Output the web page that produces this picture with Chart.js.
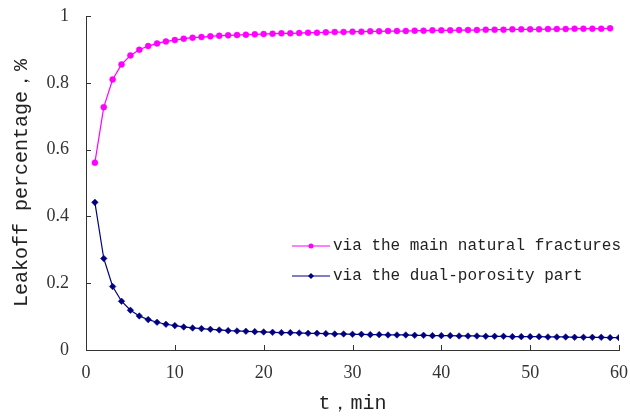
<!DOCTYPE html>
<html>
<head>
<meta charset="utf-8">
<script src="https://cdn.jsdelivr.net/npm/chart.js@4/dist/chart.umd.min.js"></script>
<style>
html,body{margin:0;padding:0;background:#fff;}
#wrap{width:630px;height:417px;}
</style>
</head>
<body>
<div id="wrap"><canvas id="c" width="630" height="417"></canvas></div>
<script>
const seriesNames = ["via the main natural fractures", "via the dual-porosity part"];
const timeMain = [1,2,3,4,5,6,7,8,9,10,11,12,13,14,15,16,17,18,19,20,21,22,23,24,25,26,27,28,29,30,31,32,33,34,35,36,37,38,39,40,41,42,43,44,45,46,47,48,49,50,51,52,53,54,55,56,57,58,59];
const mainFractures = [0.561,0.727,0.810,0.855,0.882,0.899,0.910,0.918,0.924,0.928,0.932,0.935,0.937,0.939,0.941,0.942,0.943,0.944,0.945,0.946,0.947,0.948,0.948,0.949,0.950,0.950,0.951,0.952,0.952,0.953,0.953,0.954,0.954,0.955,0.955,0.955,0.956,0.956,0.957,0.957,0.957,0.958,0.958,0.958,0.959,0.959,0.959,0.960,0.960,0.960,0.960,0.961,0.961,0.961,0.962,0.962,0.962,0.962,0.963];
const timeDual = [1,2,3,4,5,6,7,8,9,10,11,12,13,14,15,16,17,18,19,20,21,22,23,24,25,26,27,28,29,30,31,32,33,34,35,36,37,38,39,40,41,42,43,44,45,46,47,48,49,50,51,52,53,54,55,56,57,58,59,60];
const dualPorosity = [0.442,0.274,0.190,0.146,0.119,0.102,0.091,0.083,0.077,0.073,0.069,0.066,0.064,0.062,0.060,0.058,0.057,0.056,0.055,0.054,0.053,0.052,0.052,0.051,0.050,0.050,0.049,0.048,0.048,0.047,0.047,0.046,0.046,0.045,0.045,0.045,0.044,0.044,0.043,0.043,0.043,0.042,0.042,0.042,0.041,0.041,0.041,0.040,0.040,0.040,0.040,0.039,0.039,0.039,0.038,0.038,0.038,0.038,0.037,0.037];
const xTitle = "t，min";
const yTitle = "Leakoff percentage，%";

const toPts = (xs, ys) => xs.map((x, i) => ({x: x, y: ys[i]}));

const tickPlugin = {
  id: 'innerTicks',
  afterDraw(chart) {
    const ctx = chart.ctx;
    const xs = chart.scales.x, ys = chart.scales.y;
    const a = chart.chartArea;
    ctx.save();
    ctx.strokeStyle = '#333';
    ctx.lineWidth = 1;
    ctx.beginPath();
    ys.ticks.forEach(t => {
      const y = Math.round(ys.getPixelForValue(t.value)) + 0.5;
      ctx.moveTo(a.left, y); ctx.lineTo(a.left + 5, y);
    });
    xs.ticks.forEach(t => {
      const x = Math.round(xs.getPixelForValue(t.value)) + 0.5;
      ctx.moveTo(x, a.bottom); ctx.lineTo(x, a.bottom - 5);
    });
    ctx.stroke();
    ctx.restore();
  }
};

const legendPlugin = {
  id: 'customLegend',
  afterDraw(chart) {
    const ctx = chart.ctx;
    ctx.save();
    chart.data.datasets.forEach((ds, i) => {
      const y = 246 + 30 * i;
      ctx.strokeStyle = ds.borderColor;
      ctx.lineWidth = 1.2;
      ctx.beginPath();
      ctx.moveTo(292, y); ctx.lineTo(330, y);
      ctx.stroke();
      ctx.fillStyle = ds.pointBackgroundColor;
      ctx.beginPath();
      if (ds.pointStyle === 'circle') { ctx.arc(311, y, 2.5, 0, Math.PI*2); }
      else { ctx.moveTo(311, y-3); ctx.lineTo(314, y); ctx.lineTo(311, y+3); ctx.lineTo(308, y); ctx.closePath(); }
      ctx.fill();
      ctx.fillStyle = '#222';
      ctx.font = '16px "Liberation Mono", monospace';
      ctx.textBaseline = 'middle';
      ctx.textAlign = 'left';
      ctx.fillText(ds.label, 333, y);
    });
    ctx.restore();
  }
};

new Chart(document.getElementById('c'), {
  type: 'line',
  data: {
    datasets: [
      {label: seriesNames[0], data: toPts(timeMain, mainFractures), borderColor: '#FF00FF', backgroundColor: '#FF00FF',
       pointBackgroundColor: '#FF00FF', pointBorderColor: '#FF00FF', pointStyle: 'circle', pointRadius: 3, pointBorderWidth: 0.5, borderWidth: 1.2, tension: 0},
      {label: seriesNames[1], data: toPts(timeDual, dualPorosity), borderColor: '#000080', backgroundColor: '#000080',
       pointBackgroundColor: '#000080', pointBorderColor: '#000080', pointStyle: 'rectRot', pointRadius: 3.3, pointBorderWidth: 0.5, borderWidth: 1.2, tension: 0}
    ]
  },
  options: {
    responsive: false,
    animation: false,
    layout: {padding: {top: 16, right: 11, left: 0, bottom: 0}},
    plugins: {legend: {display: false}, tooltip: {enabled: false}},
    scales: {
      x: {
        type: 'linear', min: 0, max: 60,
        ticks: {stepSize: 10, padding: 12, color: '#333', font: {family: '"Liberation Serif", serif', size: 18}},
        grid: {display: true, drawOnChartArea: false, drawTicks: false},
        border: {display: true, color: '#333', width: 1},
        title: {display: true, text: xTitle, color: '#222', padding: {top: 4, bottom: 1}, font: {family: '"Liberation Mono", monospace', size: 20}},
        afterFit(s) { s.height = 67; s.paddingLeft = 0; s.paddingRight = 0; }
      },
      y: {
        type: 'linear', min: 0, max: 1,
        ticks: {stepSize: 0.2, padding: 17, color: '#333', font: {family: '"Liberation Serif", serif', size: 18},
          callback: v => String(Number(v.toFixed(1)))},
        grid: {display: true, drawOnChartArea: false, drawTicks: false},
        border: {display: true, color: '#333', width: 1},
        title: {display: true, text: yTitle, color: '#222', padding: {top: 10, bottom: 0}, font: {family: '"Liberation Mono", monospace', size: 20}},
        afterFit(s) { s.width = 86; s.paddingTop = 0; s.paddingBottom = 0; }
      }
    }
  },
  plugins: [tickPlugin, legendPlugin]
});
</script>
</body>
</html>
